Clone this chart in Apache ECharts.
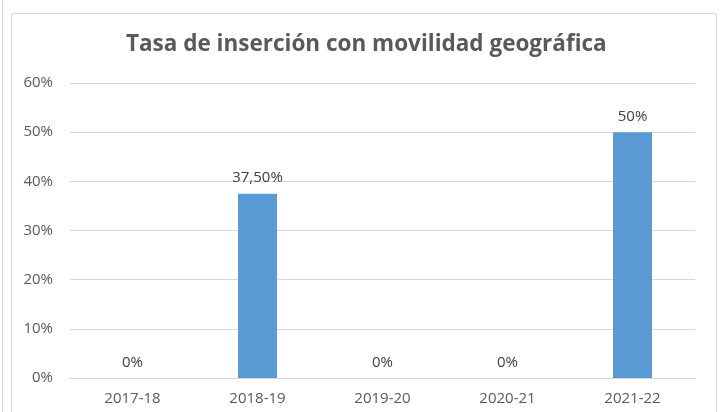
<!DOCTYPE html>
<html>
<head>
<meta charset="utf-8">
<script src="https://cdn.jsdelivr.net/npm/echarts@6/dist/echarts.min.js"></script>
<style>
  html, body { margin: 0; padding: 0; background: #ffffff; }
  #chart { width: 722px; height: 412px; }
</style>
</head>
<body>
<div id="chart"></div>
<script>
const titleText = 'Tasa de inserción con movilidad geográfica';
const categories = ['2017-18', '2018-19', '2019-20', '2020-21', '2021-22'];
const rates = [0, 37.5, 0, 0, 50];
const yTicks = [0, 10, 20, 30, 40, 50, 60];

const FONT = '"Open Sans", Lato, sans-serif';

// Spanish-style percentage: whole numbers plain, otherwise two decimals with comma
function pct(v) {
  return Number.isInteger(v) ? v + '%' : v.toFixed(2).replace('.', ',') + '%';
}

const chart = echarts.init(document.getElementById('chart'), null, { renderer: 'canvas' });
chart.setOption({
  animation: false,
  backgroundColor: '#ffffff',
  textStyle: { fontFamily: FONT },
  title: {
    text: titleText,
    left: 121,
    top: 28,
    textStyle: { fontFamily: FONT, fontSize: 22.5, fontWeight: 'bold', color: '#595959' }
  },
  graphic: [
    { type: 'line', shape: { x1: 2.5, y1: 0, x2: 2.5, y2: 412 }, style: { stroke: '#d9d9d9', lineWidth: 1 } },
    { type: 'rect', shape: { x: 11.5, y: 13.5, width: 705, height: 420 }, style: { fill: 'none', stroke: '#d9d9d9', lineWidth: 1 } }
  ],
  grid: { left: 70, right: 27, top: 83, bottom: 34 },
  xAxis: {
    type: 'category',
    data: categories,
    axisLine: { lineStyle: { color: '#d9d9d9' } },
    axisTick: { show: false },
    axisLabel: { color: '#595959', fontSize: 15, fontFamily: FONT, margin: 13 }
  },
  yAxis: {
    type: 'value',
    min: yTicks[0],
    max: yTicks[yTicks.length - 1],
    interval: 10,
    axisLine: { show: false },
    axisTick: { show: false },
    splitLine: { lineStyle: { color: '#d9d9d9' } },
    axisLabel: { color: '#595959', fontSize: 15, fontFamily: FONT, margin: 17, formatter: v => v + '%' }
  },
  series: [{
    type: 'bar',
    data: rates,
    barWidth: 39,
    itemStyle: { color: '#5b9bd5' },
    label: {
      show: true,
      position: 'top',
      distance: 8,
      color: '#404040',
      fontSize: 15,
      fontFamily: FONT,
      formatter: p => pct(p.value)
    }
  }]
});
</script>
</body>
</html>
